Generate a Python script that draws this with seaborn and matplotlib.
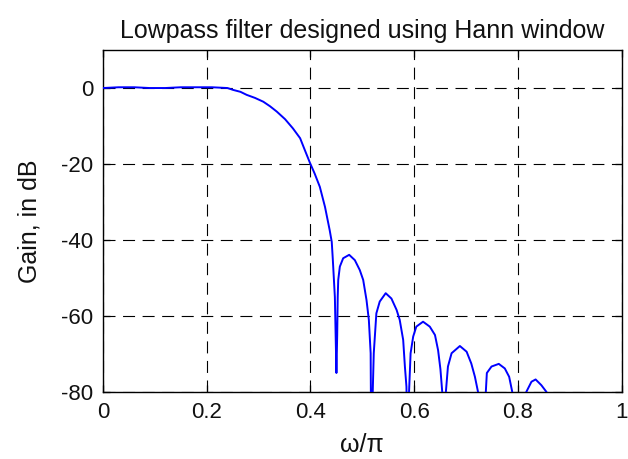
import matplotlib
matplotlib.use("Agg")
import matplotlib.pyplot as plt
import seaborn as sns
import pandas as pd

# Normalised frequency (omega/pi) and magnitude response in dB
freq = [
    0.000, 0.030, 0.060, 0.090, 0.120, 0.150, 0.180, 0.210, 0.240, 0.251,
    0.265, 0.277, 0.293, 0.309, 0.322, 0.335, 0.351, 0.366, 0.380, 0.389,
    0.399, 0.408, 0.418, 0.428, 0.437, 0.441, 0.443, 0.447, 0.450, 0.4515,
    0.4525, 0.4535, 0.4566, 0.463, 0.4746, 0.4855, 0.495, 0.5016, 0.508, 0.5125,
    0.516, 0.517, 0.519, 0.520, 0.522, 0.527, 0.5335, 0.545, 0.556, 0.566,
    0.572, 0.5787, 0.582, 0.585, 0.587, 0.589, 0.590, 0.593, 0.598, 0.604,
    0.617, 0.630, 0.640, 0.646, 0.6505, 0.654, 0.656, 0.659, 0.661, 0.665,
    0.672, 0.688, 0.701, 0.710, 0.717, 0.723, 0.726, 0.735, 0.738, 0.740,
    0.749, 0.763, 0.7746, 0.783, 0.789, 0.792, 0.812, 0.816, 0.826, 0.834,
    0.845, 0.855, 0.860, 1.000,
]
gain_db = [
    0.0, 0.2, 0.2, 0.0, 0.0, 0.2, 0.2, 0.2, 0.0, -0.5,
    -1.0, -1.8, -2.6, -3.6, -4.8, -6.2, -8.2, -10.6, -13.2, -16.3,
    -19.7, -22.5, -26.0, -31.3, -37.4, -40.5, -45.0, -55.0, -75.0, -65.0,
    -55.0, -50.5, -47.0, -44.8, -43.9, -45.3, -47.9, -50.5, -55.8, -61.0,
    -69.8, -95.0, -95.0, -80.0, -69.8, -59.3, -56.2, -54.0, -55.4, -58.4,
    -61.0, -66.3, -73.3, -78.6, -95.0, -95.0, -80.0, -69.8, -65.4, -62.8,
    -61.5, -62.8, -65.0, -69.0, -74.0, -80.0, -95.0, -95.0, -80.0, -73.3,
    -69.8, -67.9, -69.4, -72.5, -76.0, -80.0, -95.0, -95.0, -80.0, -75.0,
    -73.3, -72.6, -73.8, -76.0, -80.0, -95.0, -95.0, -80.0, -77.3, -76.7,
    -78.2, -80.0, -95.0, -95.0,
]

xticks = [0, 0.2, 0.4, 0.6, 0.8, 1]
xtick_labels = ["0", "0.2", "0.4", "0.6", "0.8", "1"]
yticks = [-80, -60, -40, -20, 0]
ytick_labels = ["-80", "-60", "-40", "-20", "0"]

sns.set_theme(style="white")
plt.rcParams["font.family"] = ["Liberation Sans", "DejaVu Sans"]
plt.rcParams["xtick.direction"] = "in"
plt.rcParams["ytick.direction"] = "in"

df = pd.DataFrame({"w": freq, "g": gain_db})

fig = plt.figure(figsize=(6.28, 4.59), dpi=100)
ax = fig.add_axes([0.164, 0.146, 0.826, 0.745])

sns.lineplot(data=df, x="w", y="g", ax=ax, sort=False, estimator=None,
             color="#0000ff", linewidth=1.4, zorder=3)

ax.set_xlim(0, 1)
ax.set_ylim(-80, 10)
ax.set_xticks(xticks)
ax.set_xticklabels(xtick_labels)
ax.set_yticks(yticks)
ax.set_yticklabels(ytick_labels)

ax.grid(True, color="black", linestyle=(0, (10.8, 6.8)), linewidth=0.8)
for s in ax.spines.values():
    s.set_visible(True)
    s.set_color("black")
    s.set_linewidth(1.0)

ax.tick_params(axis="both", which="major", length=5, width=0.9, color="black",
               labelsize=16, labelcolor="#111111", top=True, right=True,
               bottom=True, left=True, pad=7)

ax.set_title("Lowpass filter designed using Hann window", fontsize=18, pad=9,
             color="#111111")
ax.set_xlabel("\u03c9/\u03c0", fontsize=18, color="#111111", labelpad=7.5)
ax.set_ylabel("Gain, in dB", fontsize=18, color="#111111", labelpad=14)

fig.savefig("out.png", dpi=100, facecolor="white")
